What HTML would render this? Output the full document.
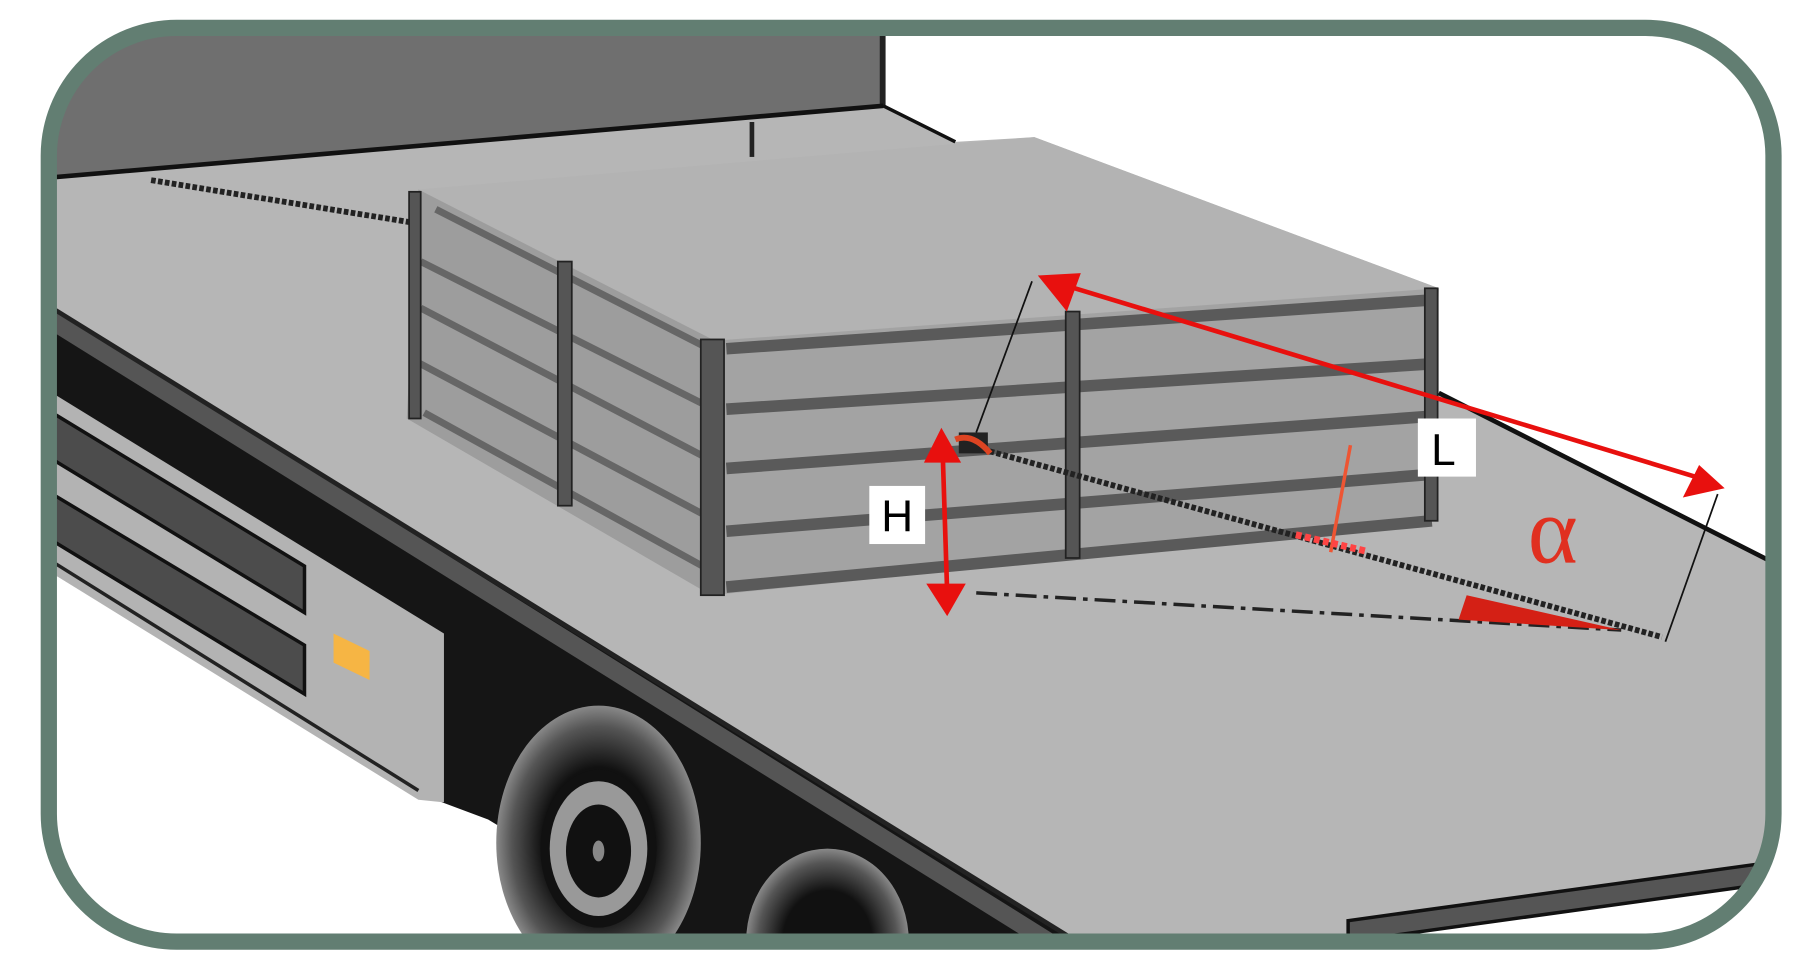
<!DOCTYPE html>
<html><head><style>html,body{margin:0;padding:0;background:#fff;overflow:hidden;width:1813px;height:973px}svg{display:block;position:absolute;left:0;top:0}</style></head>
<body>
<svg width="1813" height="973" viewBox="0 0 1560 837" preserveAspectRatio="none" xmlns="http://www.w3.org/2000/svg">
<defs>
<clipPath id="c"><rect x="42" y="24" width="1484" height="786" rx="110"/></clipPath>
<radialGradient id="tire" cx="50%" cy="50%" r="50%">
<stop offset="0.55" stop-color="#111"/><stop offset="0.85" stop-color="#555"/><stop offset="1" stop-color="#888"/></radialGradient>
</defs>
<rect width="1560" height="837" fill="#fff"/>
<g clip-path="url(#c)">
<polygon points="40,20 760,20 760,92 40,155" fill="#6f6f6f"/>
<rect x="757" y="20" width="5" height="72" fill="#222"/>
<polygon points="40,262 930,812 40,812" fill="#151515"/>
<polygon points="40,335 382,545 382,690 360,690 40,490" fill="#b3b3b3"/>
<polygon points="40,282 920,830 920,812 40,262" fill="#555"/>
<polygon points="40,352 262,487 262,527 40,392" fill="#4c4c4c" stroke="#111" stroke-width="3"/>
<polygon points="40,422 262,555 262,597 40,462" fill="#4c4c4c" stroke="#111" stroke-width="3"/>
<polygon points="287,545 318,560 318,585 287,570" fill="#f6b544"/>
<polygon points="40,490 360,688 380,690 420,705 445,720 470,830 40,830" fill="#fff"/>
<line x1="40" y1="480" x2="360" y2="680" stroke="#222" stroke-width="3"/>
<ellipse cx="515" cy="725" rx="88" ry="118" fill="url(#tire)"/>
<ellipse cx="515" cy="730" rx="50" ry="68" fill="#111"/>
<ellipse cx="515" cy="730" rx="42" ry="58" fill="#999"/>
<ellipse cx="515" cy="732" rx="28" ry="40" fill="#111"/>
<ellipse cx="515" cy="732" rx="5" ry="9" fill="#888"/>
<ellipse cx="712" cy="810" rx="70" ry="80" fill="url(#tire)"/>
<polygon points="40,153 760,92 822,122 890,118 1238,248 1238,340 1522,482 1522,745 1160,792 1160,830 930,830 930,812 40,262" fill="#b6b6b6"/>
<line x1="40" y1="262" x2="930" y2="812" stroke="#222" stroke-width="4"/>
<line x1="40" y1="153" x2="760" y2="91" stroke="#111" stroke-width="4"/>
<line x1="760" y1="91" x2="822" y2="122" stroke="#111" stroke-width="3"/>
<line x1="1238" y1="338" x2="1522" y2="482" stroke="#111" stroke-width="4"/>
<polygon points="1160,792 1522,742 1522,760 1160,810" fill="#555" stroke="#111" stroke-width="3"/>
<line x1="130" y1="155" x2="358" y2="192" stroke="#222" stroke-width="5" stroke-dasharray="4,2"/>
<line x1="647" y1="105" x2="647" y2="135" stroke="#222" stroke-width="4"/>
<polygon points="360,163 890,118 1238,248 615,293" fill="#b3b3b3"/>
<polygon points="360,163 615,293 612,512 350,360" fill="#9d9d9d"/>
<g stroke="#666" stroke-width="6">
<line x1="362" y1="225" x2="610" y2="350"/><line x1="362" y1="265" x2="610" y2="395"/>
<line x1="360" y1="312" x2="610" y2="445"/><line x1="365" y1="355" x2="610" y2="490"/>
<line x1="375" y1="180" x2="610" y2="300"/>
</g>
<polygon points="615,293 1238,248 1232,450 612,512" fill="#a3a3a3"/>
<g stroke="#5a5a5a" stroke-width="10">
<line x1="625" y1="300" x2="1232" y2="258"/><line x1="625" y1="352" x2="1232" y2="313"/>
<line x1="625" y1="403" x2="1232" y2="358"/><line x1="625" y1="457" x2="1232" y2="408"/>
<line x1="625" y1="505" x2="1232" y2="448"/>
</g>
<g fill="#555" stroke="#222" stroke-width="1.5">
<rect x="352" y="165" width="10" height="195"/><rect x="480" y="225" width="12" height="210"/>
<rect x="603" y="292" width="20" height="220"/><rect x="917" y="268" width="12" height="212"/>
<rect x="1226" y="248" width="11" height="200"/>
</g>
<line x1="840" y1="385" x2="1430" y2="548" stroke="#222" stroke-width="5" stroke-dasharray="4,2"/>
<rect x="825" y="372" width="25" height="18" fill="#222"/>
<path d="M822,378 q15,-6 30,12" stroke="#d42" stroke-width="5" fill="none"/>
<line x1="1162" y1="383" x2="1145" y2="475" stroke="#e53" stroke-width="3"/>
<line x1="1115" y1="460" x2="1175" y2="474" stroke="#f44" stroke-width="6" stroke-dasharray="5,3"/>
<line x1="840" y1="510" x2="1395" y2="542" stroke="#222" stroke-width="3" stroke-dasharray="18,6,4,6"/>
<polygon points="1262,512 1395,542 1255,533" fill="#d42015"/>
<line x1="888" y1="242" x2="840" y2="372" stroke="#111" stroke-width="1.5"/>
<line x1="1478" y1="425" x2="1433" y2="552" stroke="#111" stroke-width="1.5"/>
<line x1="915" y1="245" x2="1465" y2="412" stroke="#e8100e" stroke-width="4"/>
<polygon points="893,237 930,235 918,268" fill="#e8100e"/>
<polygon points="1484,420 1448,428 1462,400" fill="#e8100e"/>
<line x1="811" y1="385" x2="815" y2="510" stroke="#e8100e" stroke-width="4"/>
<polygon points="810,368 795,398 827,398" fill="#e8100e"/>
<polygon points="815,530 797,502 831,502" fill="#e8100e"/>
<rect x="748" y="418" width="48" height="50" fill="#fff"/>
<text x="772" y="457" font-family="Liberation Sans, sans-serif" font-size="38" text-anchor="middle" fill="#000">H</text>
<rect x="1220" y="360" width="50" height="50" fill="#fff"/>
<text x="1242" y="400" font-family="Liberation Sans, sans-serif" font-size="38" text-anchor="middle" fill="#000">L</text>
<text x="1336" y="484" font-family="Liberation Serif, serif" font-size="82" text-anchor="middle" fill="#e03020">α</text>
</g>
<rect x="42" y="24" width="1484" height="786" rx="110" fill="none" stroke="#627e72" stroke-width="14"/>
</svg>
</body></html>
